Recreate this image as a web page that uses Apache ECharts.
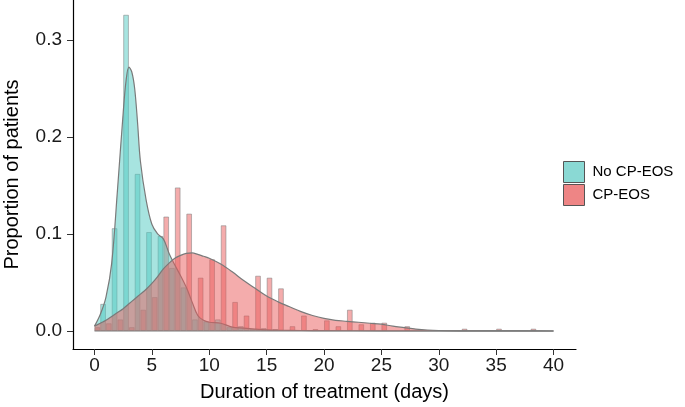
<!DOCTYPE html>
<html>
<head>
<meta charset="utf-8">
<script src="https://cdn.jsdelivr.net/npm/echarts@6/dist/echarts.min.js"></script>
<style>html,body{margin:0;padding:0;background:#fff}#c{width:685px;height:407px}</style>
</head>
<body>
<div id="c"></div>
<script>
// ---- data ----
const groups = ['No CP-EOS', 'CP-EOS'];
const days = Array.from({length: 41}, (_, i) => i);
const noEosBars = [0, 0.028, 0.106, 0.326, 0.162, 0.102, 0.098, 0.065, 0.045, 0.012,
  0.010, 0.012, 0.004, 0.005, 0.002, 0.003, 0.002, 0, 0.001, 0,
  0, 0, 0, 0, 0, 0, 0, 0, 0, 0, 0, 0, 0, 0, 0, 0, 0, 0, 0, 0, 0];
const eosBars = [0.004, 0.008, 0.012, 0.004, 0.022, 0.035, 0.118, 0.148, 0.121, 0.055,
  0.074, 0.109, 0.030, 0.016, 0.057, 0.055, 0.044, 0.005, 0.016, 0.002,
  0.011, 0.005, 0.022, 0.007, 0.0086, 0.0086, 0, 0.005, 0, 0,
  0, 0, 0.0024, 0, 0, 0.0024, 0, 0, 0.0024, 0, 0];
const noEosDensX = [0, 0.5, 1, 1.5, 2, 2.5, 2.75, 3, 3.25, 3.5, 3.75, 4, 4.5, 5, 5.5, 6, 6.5, 7, 7.5, 8, 8.5, 9, 9.5, 10, 11, 12, 13, 14, 15, 16, 18, 20, 25, 30, 35, 40];
const noEosDens = [0.005, 0.017, 0.035, 0.07, 0.145, 0.225, 0.258, 0.272, 0.267, 0.25, 0.215, 0.175, 0.135, 0.11, 0.1, 0.095, 0.08, 0.068, 0.057, 0.045, 0.03, 0.016, 0.011, 0.009, 0.008, 0.004, 0.003, 0.002, 0.0012, 0.0008, 0.0005, 0.0003, 0.0002, 0.0001, 0.0001, 0];
const eosDensX = [0, 0.5, 1, 1.5, 2, 2.5, 3, 3.5, 4, 4.5, 5, 5.5, 6, 6.5, 7, 7.5, 8, 8.5, 9, 9.5, 10, 11, 12, 13, 14, 15, 16, 17, 18, 19, 20, 21, 22, 23, 24, 25, 26, 27, 28, 29, 30, 32, 34, 36, 38, 40];
const eosDens = [0.005, 0.008, 0.011, 0.015, 0.019, 0.023, 0.028, 0.033, 0.038, 0.043, 0.049, 0.056, 0.064, 0.07, 0.075, 0.078, 0.080, 0.0805, 0.079, 0.077, 0.075, 0.069, 0.061, 0.052, 0.044, 0.036, 0.030, 0.025, 0.020, 0.016, 0.013, 0.011, 0.010, 0.009, 0.008, 0.007, 0.005, 0.0035, 0.002, 0.001, 0.0005, 0.0002, 0.0001, 0.0001, 0.0001, 0];
const xTicks = [0, 5, 10, 15, 20, 25, 30, 35, 40];
const yTicks = [0, 0.1, 0.2, 0.3];

// ---- style ----
const TEAL = '#4fcac2';
const RED = '#ea5a5a';
const OUT = '#7a7a7a';
const FONT = 'Liberation Sans, Arial, sans-serif';

function pairs(xs, ys) { return xs.map((x, i) => [x, ys[i]]); }
function barData(vals) { return days.map((d, i) => [d, vals[i]]).filter(p => p[1] > 0); }

const chart = echarts.init(document.getElementById('c'), null, {renderer: 'canvas'});
chart.setOption({
  animation: false,
  backgroundColor: '#fff',
  grid: {left: 73, right: 109, top: 0, bottom: 58, containLabel: false, outerBoundsMode: 'none'},
  xAxis: {
    type: 'value', min: -1.874, max: 41.96,
    name: 'Duration of treatment (days)', nameLocation: 'middle', nameGap: 33,
    nameTextStyle: {fontFamily: FONT, fontSize: 20, color: '#000'},
    splitLine: {show: false},
    axisLine: {show: true, onZero: false, lineStyle: {color: '#000', width: 1.2}},
    axisTick: {show: true, length: 6, customValues: xTicks, lineStyle: {color: '#333'}},
    axisLabel: {customValues: xTicks, fontFamily: FONT, fontSize: 19, color: '#1a1a1a', margin: 7}
  },
  yAxis: {
    type: 'value', min: -0.01856, max: 0.3412,
    name: 'Proportion of patients', nameLocation: 'middle', nameGap: 51,
    nameTextStyle: {fontFamily: FONT, fontSize: 20, color: '#000'},
    splitLine: {show: false},
    axisLine: {show: true, onZero: false, lineStyle: {color: '#000', width: 1.2}},
    axisTick: {show: true, length: 6, customValues: yTicks, lineStyle: {color: '#333'}},
    axisLabel: {customValues: yTicks, fontFamily: FONT, fontSize: 19, color: '#1a1a1a', margin: 11,
      formatter: v => v.toFixed(1)}
  },
  legend: {
    orient: 'vertical', left: 563, top: 161, itemWidth: 21, itemHeight: 21, itemGap: 1,
    padding: 0, selectedMode: false,
    textStyle: {fontFamily: FONT, fontSize: 15, color: '#000', padding: [0, 0, 0, 3]},
    data: [
      {name: groups[0], icon: 'rect', itemStyle: {color: '#8ad9d4', opacity: 1, borderColor: '#555', borderWidth: 1}},
      {name: groups[1], icon: 'rect', itemStyle: {color: '#ee8585', opacity: 1, borderColor: '#555', borderWidth: 1}}
    ]
  },
  series: [
    {name: groups[0], type: 'bar', data: barData(noEosBars), barWidth: '50%', barGap: '0%', z: 1,
      itemStyle: {color: TEAL, opacity: 0.5, borderColor: OUT, borderWidth: 1}},
    {name: groups[1], type: 'bar', data: barData(eosBars), barWidth: '50%', barGap: '0%', z: 1,
      itemStyle: {color: RED, opacity: 0.5, borderColor: OUT, borderWidth: 1}},
    {name: groups[0], type: 'line', data: pairs(noEosDensX, noEosDens), smooth: 0.35, showSymbol: false, z: 2,
      lineStyle: {color: OUT, width: 1.2}, itemStyle: {color: TEAL},
      areaStyle: {color: TEAL, opacity: 0.5}},
    {name: groups[1], type: 'line', data: pairs(eosDensX, eosDens), smooth: 0.35, showSymbol: false, z: 3,
      lineStyle: {color: OUT, width: 1.2}, itemStyle: {color: RED},
      areaStyle: {color: RED, opacity: 0.5}},
    {name: 'baseline', type: 'line', z: 4, showSymbol: false, silent: true,
      data: [[eosDensX[0], 0], [eosDensX[eosDensX.length - 1], 0]],
      lineStyle: {color: OUT, width: 1.2}}
  ]
});
</script>
</body>
</html>
